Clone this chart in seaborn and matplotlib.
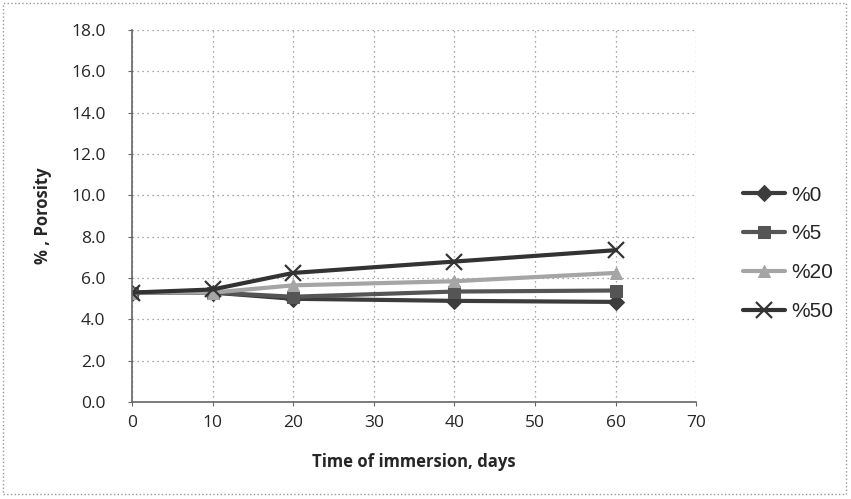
import matplotlib
matplotlib.use("Agg")
import pandas as pd
import matplotlib.pyplot as plt
import seaborn as sns

# --- Data ---
DAYS = [0, 10, 20, 40, 60]
SERIES = ['%0', '%5', '%20', '%50']
POR_0 = [5.3, 5.3, 5.0, 4.9, 4.85]
POR_5 = [5.3, 5.3, 5.1, 5.35, 5.4]
POR_20 = [5.3, 5.3, 5.65, 5.85, 6.25]
POR_50 = [5.3, 5.45, 6.25, 6.8, 7.35]

COLORS = {'%0': '#3c3c3c', '%5': '#555555', '%20': '#a5a5a5', '%50': '#333333'}
MARKERS = {'%0': 'D', '%5': 's', '%20': '^', '%50': 'x'}


def build_frame():
    rows = []
    for name, vals in zip(SERIES, [POR_0, POR_5, POR_20, POR_50]):
        for d, v in zip(DAYS, vals):
            rows.append({'days': d, 'porosity': v, 'mix': name})
    return pd.DataFrame(rows)


def main():
    df = build_frame()
    sns.set_style('white')
    plt.rcParams['font.family'] = ['Open Sans', 'DejaVu Sans']

    fig = plt.figure(figsize=(8.51, 4.99), dpi=100)
    ax = fig.add_axes([0.155, 0.194, 0.663, 0.746])

    sns.lineplot(data=df, x='days', y='porosity', hue='mix',
                 hue_order=SERIES, palette=COLORS,
                 linewidth=3, legend=False, ax=ax)

    # seaborn won't mix filled and line-art markers, so set them per line
    for line, name in zip(ax.lines, SERIES):
        line.set_label(name)
        line.set_marker(MARKERS[name])
        line.set_markeredgecolor(COLORS[name])
        if name == '%50':
            line.set_markersize(12)
            line.set_markeredgewidth(1.6)
        else:
            line.set_markersize(8)

    ax.set_xlim(0, 70)
    ax.set_ylim(0, 18)
    ax.set_xticks(range(0, 71, 10))
    ax.set_yticks([i * 2.0 for i in range(10)])
    ax.set_yticklabels([f'{i * 2.0:.1f}' for i in range(10)])
    ax.grid(True, linestyle=(0, (1, 3)), color='#8a8a8a', linewidth=0.9)
    for s in ['top', 'right']:
        ax.spines[s].set_visible(False)
    for s in ['left', 'bottom']:
        ax.spines[s].set_color('#666666')
        ax.spines[s].set_linewidth(1.2)
    ax.tick_params(axis='y', labelsize=12.5, length=3, pad=16, color='#666666', left=True)
    ax.tick_params(axis='x', labelsize=12.5, length=3, pad=6, color='#666666', bottom=True)
    ax.set_xlabel('Time of immersion, days', fontsize=12, fontweight='bold', labelpad=16)
    ax.set_ylabel('% , Porosity', fontsize=12, fontweight='bold', labelpad=14)

    ax.legend(loc='center left', bbox_to_anchor=(1.05, 0.40),
              frameon=False, prop={'family': 'Liberation Sans', 'size': 15},
              labelspacing=0.95, handlelength=2.0, handletextpad=0.3)

    # outer chart border as in the spreadsheet export
    fig.patches.append(plt.Rectangle((0.004, 0.01), 0.99, 0.983, transform=fig.transFigure,
                                     fill=False, edgecolor='#999999', linestyle=':', linewidth=1))

    fig.savefig('out.png', dpi=100)


if __name__ == "__main__":
    main()
